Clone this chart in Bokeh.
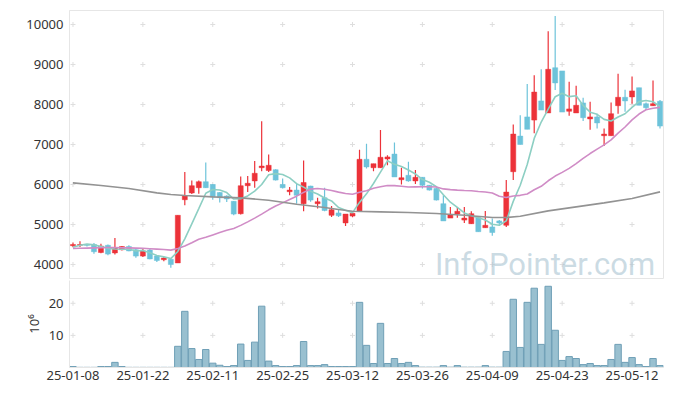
import numpy as np
from bokeh.plotting import figure
from bokeh.layouts import column
from bokeh.models import Range1d, FixedTicker, Label, ColumnDataSource
from bokeh.embed import file_html
from bokeh.resources import INLINE

dates = ["25-01-08","25-01-09","25-01-10","25-01-13","25-01-14","25-01-15","25-01-16","25-01-17","25-01-20","25-01-21",
         "25-01-22","25-01-23","25-01-24","25-01-31","25-02-03","25-02-04","25-02-05","25-02-06","25-02-07","25-02-10",
         "25-02-11","25-02-12","25-02-13","25-02-14","25-02-17","25-02-18","25-02-19","25-02-20","25-02-21","25-02-24",
         "25-02-25","25-02-26","25-02-27","25-02-28","25-03-04","25-03-05","25-03-06","25-03-07","25-03-10","25-03-11",
         "25-03-12","25-03-13","25-03-14","25-03-17","25-03-18","25-03-19","25-03-20","25-03-21","25-03-24","25-03-25",
         "25-03-26","25-03-27","25-03-28","25-03-31","25-04-01","25-04-02","25-04-03","25-04-04","25-04-07","25-04-08",
         "25-04-09","25-04-10","25-04-11","25-04-14","25-04-15","25-04-16","25-04-17","25-04-18","25-04-21","25-04-22",
         "25-04-23","25-04-24","25-04-25","25-04-28","25-04-29","25-04-30","25-05-02","25-05-07","25-05-08","25-05-09",
         "25-05-12","25-05-13","25-05-14","25-05-15","25-05-16"]

opens = [4470,4480,4490,4500,4300,4480,4290,4370,4450,4370,4210,4360,4210,4120,4130,
         4040,5620,5790,5920,6070,6000,5800,5710,5580,5270,5970,6090,6420,6350,6370,
         6000,5820,5860,5520,5960,5520,5670,5230,5290,5040,5210,5330,6630,6420,6420,
         6640,6760,6120,6230,6090,6180,5980,5900,5520,5160,5260,5110,5020,5170,4920,
         4940,5090,4980,6320,7210,7690,7610,8090,7790,8920,8840,7830,7790,8040,7640,
         7690,7220,7220,7970,8180,8190,8420,8020,7970,8080]
highs = [4550,4580,4510,4540,4520,4500,4660,4460,4480,4400,4400,4390,4220,4190,4140,
         5230,6310,6100,6100,6550,6010,5810,5730,5590,6200,6210,6590,7580,6750,6380,
         6150,5940,6020,6600,5970,5670,5920,5460,5360,5260,5340,6870,7020,6520,7360,
         6730,7050,6420,6570,6360,6190,5990,5910,5730,5440,5440,5440,5330,5180,5340,
         5150,5110,6110,7500,7730,8510,8730,8880,9830,10210,8840,8570,8470,8170,8070,
         7770,7400,8050,8770,8370,8700,8420,8050,8600,8110]
lows = [4430,4440,4450,4270,4280,4230,4250,4350,4330,4170,4190,4130,4060,4080,3920,
        4040,5480,5760,5770,5910,5620,5550,5560,5230,5250,5810,5920,6330,6310,6100,
        5900,5730,5520,5330,5570,5400,5330,5190,5190,4960,5180,5330,6400,6330,6410,
        6480,6190,6000,6070,6010,5900,5850,5600,5090,5160,5170,5040,5010,4820,4920,
        4720,4980,4940,6110,7000,7380,7280,7860,7790,8360,7810,7720,7790,7590,7370,
        7400,6960,7220,7770,7820,8020,7980,7860,7960,7400]
closes = [4500,4500,4480,4320,4460,4260,4420,4450,4340,4210,4340,4140,4100,4160,4000,
          5230,5720,5970,6070,5920,5690,5670,5640,5260,5970,6030,6280,6460,6480,6110,
          5920,5860,5730,6050,5610,5570,5350,5370,5220,5260,5280,6630,6440,6520,6680,
          6690,6190,6170,6090,6180,5980,5860,5610,5090,5250,5330,5160,5270,4820,4980,
          4800,5040,5810,7260,7000,7380,8310,7860,8880,8540,7810,7890,7980,7670,7690,
          7540,7260,7770,8180,8090,8340,7980,7920,8020,7460]
volume_m = [0.3,0.05,0.05,0.05,0.3,0.3,1.6,0.3,0.05,0.05,0.05,0.05,0.05,0.05,0.05,
            6.6,17.5,5.9,2.5,5.6,1.35,0.7,0.3,0.6,7.3,2.2,7.9,19.1,2.0,0.6,
            0.3,0.3,0.6,8.1,0.6,0.6,0.9,0.3,0.3,0.3,
            0.3,20.3,6.9,1.25,13.75,1.25,2.8,1.25,1.6,0.6,
            0.1,0.1,0.1,0.6,0.1,0.6,0.1,0.1,0.1,0.6,
            0.1,0.1,5.0,21.25,6.25,20.3,24.7,7.2,25.3,11.6,
            2.2,3.4,2.8,0.9,1.25,0.6,0.6,2.5,7.2,1.6,
            3.1,0.9,0.3,2.8,0.6]

# moving-average values before a full window is available
ma5_head = [4430, 4480, 4510, 4490]
ma20_head = [4400, 4405, 4410, 4415, 4420, 4425, 4425, 4420, 4415, 4410,
             4405, 4395, 4385, 4375, 4360, 4400, 4465, 4545, 4630]
# long moving average
ma_long_idx = [0, 4, 8, 12, 14, 16, 20, 24, 28, 32, 36, 38, 40, 44, 48, 52, 56, 60, 62, 64, 68, 72, 76, 80, 84]
ma_long = [6041, 5974, 5899, 5791, 5749, 5724, 5691, 5666, 5608, 5508, 5424, 5374, 5333, 5316, 5300,
           5274, 5233, 5174, 5174, 5208, 5341, 5441, 5541, 5649, 5816]

price_ticks = [4000, 5000, 6000, 7000, 8000, 9000, 10000]
vol_ticks = [10, 20]
x_ticks = list(range(0, 85, 10))

n = len(closes)
idx = np.arange(n)
c = np.array(closes, dtype=float)
ma5 = ma5_head + [c[i-4:i+1].mean() for i in range(4, n)]
ma20 = ma20_head + [c[i-19:i+1].mean() for i in range(19, n)]

UP = "#ec3239"
DOWN = "#6dc3da"
FONT = "Noto Sans"
GRIDC = "#e6e6e6"

up = [cl >= op for op, cl in zip(opens, closes)]
colors = [UP if u else DOWN for u in up]
src = ColumnDataSource(dict(
    x=idx, o=opens, h=highs, l=lows, c=closes,
    top=[max(a, b) for a, b in zip(opens, closes)],
    bot=[min(a, b) for a, b in zip(opens, closes)],
    color=colors, vol=volume_m))

xr = Range1d(-0.5, 84.5)

p = figure(width=665, height=279, x_range=xr, y_range=Range1d(3650, 10350),
           output_backend="svg", toolbar_location=None,
           min_border_left=69, min_border_right=2, min_border_top=10, min_border_bottom=1)
p.xaxis.visible = False
p.grid.visible = False
p.outline_line_color = GRIDC
p.background_fill_color = "white"

gx, gy = np.meshgrid(x_ticks, price_ticks)
p.scatter(gx.ravel(), gy.ravel(), marker="cross", size=5, line_color="#dedede", line_width=1)

p.segment(x0="x", y0="h", x1="x", y1="l", color="color", line_width=1.2, source=src)
p.vbar(x="x", width=0.72, top="top", bottom="bot", fill_color="color", line_color="color",
       line_width=0.5, source=src)

p.line(idx, ma5, line_color="#8dcfc3", line_width=1.6)
p.line(idx, ma20, line_color="#d08cc6", line_width=1.6)
p.line(ma_long_idx, ma_long, line_color="#939393", line_width=1.6)

wm = Label(x=83.3, y=4000, text="InfoPointer.com", text_align="right", text_baseline="alphabetic",
           text_font="Roboto", text_font_size="31px", text_color="#a9c3d1", text_alpha=0.6)
p.add_layout(wm)

yax = p.yaxis[0]
yax.ticker = FixedTicker(ticks=price_ticks)
yax.axis_line_color = GRIDC
yax.major_tick_out = 0
yax.major_tick_in = 0
yax.minor_tick_out = 0
yax.minor_tick_in = 0
yax.major_label_standoff = 6
yax.major_label_text_font = FONT
yax.major_label_text_font_size = "13px"
yax.major_label_text_color = "#333333"

v = figure(width=665, height=109, x_range=xr, y_range=Range1d(0, 27.1),
           output_backend="svg", toolbar_location=None,
           min_border_left=69, min_border_right=2, min_border_top=1, min_border_bottom=21)
v.grid.visible = False
v.outline_line_color = None
vx, vy = np.meshgrid(x_ticks, vol_ticks)
v.scatter(vx.ravel(), vy.ravel(), marker="cross", size=5, line_color="#dedede", line_width=1)
v.vbar(x="x", width=0.92, top="vol", bottom=0, fill_color="#99c0d0", line_color="#6f9fb6",
       line_width=1, source=src)

vya = v.yaxis[0]
vya.ticker = FixedTicker(ticks=vol_ticks)
vya.axis_line_color = GRIDC
vya.major_tick_out = 0
vya.major_tick_in = 0
vya.minor_tick_out = 0
vya.minor_tick_in = 0
vya.major_label_standoff = 6
vya.major_label_text_font = FONT
vya.major_label_text_font_size = "13px"
vya.major_label_text_color = "#333333"
vya.axis_label = "10\u2076"
vya.axis_label_text_font = FONT
vya.axis_label_text_font_size = "13px"
vya.axis_label_text_font_style = "normal"
vya.axis_label_text_color = "#333333"
vya.axis_label_standoff = 3

vxa = v.xaxis[0]
vxa.ticker = FixedTicker(ticks=x_ticks)
vxa.major_label_overrides = {i: dates[i] for i in x_ticks}
vxa.axis_line_color = GRIDC
vxa.major_tick_out = 0
vxa.major_tick_in = 0
vxa.minor_tick_out = 0
vxa.minor_tick_in = 0
vxa.major_label_standoff = 3
vxa.major_label_text_font = FONT
vxa.major_label_text_font_size = "13px"
vxa.major_label_text_color = "#333333"

layout = column(p, v, spacing=0)
open("out.html", "w").write(file_html(layout, INLINE))
